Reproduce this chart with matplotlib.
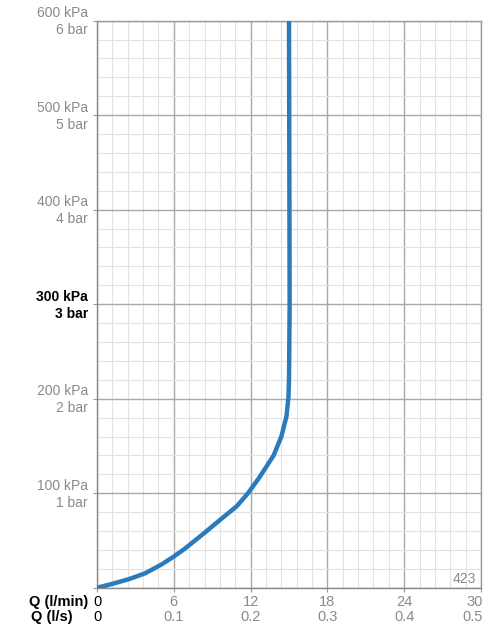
import matplotlib
matplotlib.use("Agg")
import matplotlib.pyplot as plt
import matplotlib.transforms as mtransforms
from matplotlib.ticker import MultipleLocator

plt.rcParams['font.family'] = ['Liberation Sans', 'DejaVu Sans']

# Data
flow_lpm = [0, 1.15, 2.45, 3.75, 5.05, 6.0, 6.9, 8.3, 9.6, 10.9, 11.8, 12.7,
            13.8, 14.4, 14.8, 14.96, 15.0, 15.05, 15.0]
pressure_kpa = [0, 3.9, 8.9, 15.2, 24.7, 33, 41.7, 57, 71.6, 86, 100, 117,
                140, 160, 181, 202, 220, 300, 600]

y_ticks = [100, 200, 300, 400, 500, 600]
y_labels = ["100 kPa\n1 bar", "200 kPa\n2 bar", "300 kPa\n3 bar",
            "400 kPa\n4 bar", "500 kPa\n5 bar", "600 kPa\n6 bar"]
x_ticks = [0, 6, 12, 18, 24, 30]
x_labels_lpm = ["0", "6", "12", "18", "24", "30"]
x_labels_lps = ["0", "0.1", "0.2", "0.3", "0.4", "0.5"]

GRAY = "#8a8a8a"
fig = plt.figure(figsize=(5.0, 6.38), dpi=100)
ax = fig.add_axes([0.194, 0.0788, 0.768, 0.8888])
ax.set_xlim(0, 30)
ax.set_ylim(0, 600)

ax.xaxis.set_major_locator(MultipleLocator(6))
ax.xaxis.set_minor_locator(MultipleLocator(1.2))
ax.yaxis.set_major_locator(MultipleLocator(100))
ax.yaxis.set_minor_locator(MultipleLocator(20))
ax.grid(which='minor', color='#e2e2e2', lw=0.8)
ax.grid(which='major', color='#a8a8a8', lw=1.0)
ax.set_axisbelow(True)
for s in ax.spines.values():
    s.set_color('#9a9a9a')
    s.set_linewidth(1.0)
ax.spines['left'].set_color('#888888')
ax.spines['bottom'].set_color('#888888')

ax.tick_params(which='major', length=3, color='#999999', labelleft=False, labelbottom=False)
ax.tick_params(which='minor', length=0)
ax.set_yticks([0] + y_ticks)

ax.plot(flow_lpm, pressure_kpa, color='#2a7bbd', lw=3.2, solid_capstyle='round',
        solid_joinstyle='round', zorder=3)

# Y tick labels
ytr = mtransforms.blended_transform_factory(ax.transAxes, ax.transData)
off = mtransforms.ScaledTranslation(-9/100, -1/100, fig.dpi_scale_trans)
for v, lab in zip(y_ticks, y_labels):
    bold = v == 300
    ax.text(0, v, lab, transform=ytr + off, ha='right', va='center',
            fontsize=10, linespacing=1.25,
            color='black' if bold else GRAY,
            fontweight='bold' if bold else 'normal')

# X tick labels (two rows)
xtr = mtransforms.blended_transform_factory(ax.transData, ax.transAxes)
row1 = mtransforms.ScaledTranslation(0, -14/100, fig.dpi_scale_trans)
row2 = mtransforms.ScaledTranslation(0, -29/100, fig.dpi_scale_trans)
for v, l1, l2 in zip(x_ticks, x_labels_lpm, x_labels_lps):
    col = 'black' if v == 0 else GRAY
    ha = 'center'
    shift = 0
    if v == x_ticks[-1]:
        ha = 'right'
        shift = 2/100
    sh = mtransforms.ScaledTranslation(shift, 0, fig.dpi_scale_trans)
    ax.text(v, 0, l1, transform=xtr + row1 + sh, ha=ha, va='center', fontsize=10.5, color=col)
    ax.text(v, 0, l2, transform=xtr + row2 + sh, ha=ha, va='center', fontsize=10.5, color=col)

fig.text(29/500, 1 - 601.7/638, "Q (l/min)", ha='left', va='center', fontsize=10.5, fontweight='bold', color='black')
fig.text(31/500, 1 - 616.7/638, "Q (l/s)", ha='left', va='center', fontsize=10.5, fontweight='bold', color='black')

ax.text(0.987, 0.0153, "423", transform=ax.transAxes, ha='right', va='center', fontsize=10, color=GRAY)

fig.savefig("out.png", dpi=100)
